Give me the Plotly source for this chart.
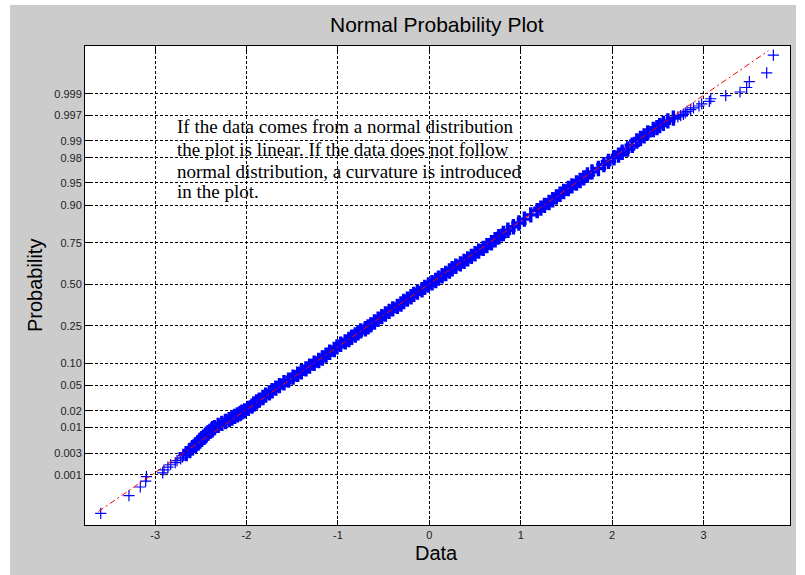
import plotly.graph_objects as go
from statistics import NormalDist

_nd = NormalDist()


def zq(p):
    return _nd.inv_cdf(p)


# ---- data (probability, data value) ----
lower_tail_p = [0.0001, 0.0003, 0.0005, 0.0007, 0.0009, 0.0011, 0.0013, 0.0015,
                0.0017, 0.0019, 0.0021, 0.0023, 0.0025, 0.0027]
lower_tail_x = [-3.595, -3.286, -3.162, -3.103, -3.095, -2.917, -2.903, -2.86,
                -2.83, -2.78, -2.76, -2.72, -2.70, -2.69]

body_p = [0.0030, 0.0035, 0.0040, 0.0045, 0.0050, 0.0055, 0.0060, 0.0065, 0.0070,
          0.0075, 0.0080, 0.0085, 0.0090, 0.0095, 0.0100, 0.0110, 0.0120, 0.0130,
          0.0140, 0.0150, 0.0160, 0.0170, 0.0180, 0.0190, 0.0200, 0.0220, 0.0240,
          0.0260, 0.0280, 0.0300, 0.0330, 0.0360, 0.0390, 0.0420, 0.0460, 0.0500,
          0.0550, 0.0600, 0.0660, 0.0720, 0.0780, 0.0850, 0.0920, 0.1000, 0.1080,
          0.1160, 0.1250, 0.1350, 0.1450, 0.1550, 0.1650, 0.1750, 0.1850, 0.1950,
          0.2050, 0.2150, 0.2250, 0.2350, 0.2450, 0.2550, 0.2700, 0.2850, 0.3000,
          0.3150, 0.3300, 0.3450, 0.3600, 0.3750, 0.3900, 0.4050, 0.4200, 0.4350,
          0.4500, 0.4650, 0.4800, 0.4950, 0.5100, 0.5250, 0.5400, 0.5550, 0.5700,
          0.5850, 0.6000, 0.6150, 0.6300, 0.6450, 0.6600, 0.6750, 0.6900, 0.7050,
          0.7200, 0.7350, 0.7500, 0.7650, 0.7800, 0.7950, 0.8100, 0.8250, 0.8400,
          0.8550, 0.8700, 0.8840, 0.8920, 0.9000, 0.9080, 0.9150, 0.9220, 0.9280,
          0.9340, 0.9400, 0.9450, 0.9500, 0.9540, 0.9580, 0.9620, 0.9660, 0.9700,
          0.9740, 0.9770, 0.9800, 0.9820, 0.9840, 0.9860, 0.9880, 0.9900, 0.9910,
          0.9920, 0.9930, 0.9940, 0.9945, 0.9950, 0.9955, 0.9960, 0.9965]
body_x = [-2.66, -2.62, -2.59, -2.56, -2.53, -2.51, -2.49, -2.47, -2.45,
          -2.44, -2.42, -2.40, -2.38, -2.37, -2.35, -2.31, -2.27, -2.23,
          -2.19, -2.16, -2.13, -2.10, -2.07, -2.05, -2.02, -1.98, -1.94,
          -1.92, -1.89, -1.86, -1.82, -1.79, -1.75, -1.72, -1.68, -1.64,
          -1.59, -1.54, -1.49, -1.44, -1.40, -1.35, -1.31, -1.26, -1.21,
          -1.17, -1.13, -1.09, -1.04, -1.01, -0.97, -0.92, -0.88, -0.85,
          -0.81, -0.78, -0.75, -0.70, -0.67, -0.64, -0.60, -0.56, -0.52,
          -0.48, -0.44, -0.40, -0.35, -0.31, -0.28, -0.24, -0.20, -0.17,
          -0.13, -0.08, -0.05, -0.01, 0.03, 0.07, 0.10, 0.14, 0.18,
          0.22, 0.25, 0.29, 0.34, 0.38, 0.42, 0.46, 0.50, 0.54,
          0.59, 0.63, 0.68, 0.72, 0.76, 0.81, 0.86, 0.92, 0.98,
          1.04, 1.11, 1.18, 1.22, 1.26, 1.31, 1.35, 1.39, 1.43,
          1.47, 1.52, 1.56, 1.61, 1.65, 1.69, 1.73, 1.78, 1.85,
          1.91, 1.96, 2.02, 2.07, 2.11, 2.17, 2.22, 2.27, 2.31,
          2.35, 2.39, 2.45, 2.49, 2.52, 2.56, 2.61, 2.67]

upper_tail_p = [0.9967, 0.9969, 0.9971, 0.9973, 0.9975, 0.9977, 0.9979, 0.9981,
                0.9983, 0.9985, 0.9987, 0.9989, 0.9991, 0.9993, 0.9995, 0.9997,
                0.9999]
upper_tail_x = [2.72, 2.75, 2.78, 2.80, 2.82, 2.86, 2.89, 2.95,
                2.98, 3.064, 3.079, 3.243, 3.399, 3.472, 3.501, 3.691,
                3.764]

# reference line: through the first and third quartiles, drawn over this data span
quartile_x = [-0.667, 0.655]
ref_line_x = [-3.62, 3.71]

prob_ticks = [0.001, 0.003, 0.01, 0.02, 0.05, 0.10, 0.25, 0.50, 0.75, 0.90,
              0.95, 0.98, 0.99, 0.997, 0.999]
prob_tick_labels = ["0.001", "0.003", "0.01", "0.02", "0.05", "0.10", "0.25",
                    "0.50", "0.75", "0.90", "0.95", "0.98", "0.99", "0.997", "0.999"]
x_ticks = [-3, -2, -1, 0, 1, 2, 3]
x_tick_labels = ["-3", "-2", "-1", "0", "1", "2", "3"]

note_lines = [
    "If the data comes from a normal distribution",
    "the plot is linear. If the data does not follow",
    "normal distribution, a curvature is introduced",
    "in the plot.",
]

# ---- build ----
tail_p = lower_tail_p + upper_tail_p
tail_x = lower_tail_x + upper_tail_x

q_mid = (quartile_x[0] + quartile_x[1]) / 2
q_scale = (quartile_x[1] - quartile_x[0]) / (zq(0.75) - zq(0.25))
ref_z = [(x - q_mid) / q_scale for x in ref_line_x]

fig = go.Figure()
# dense central body: the overlapping markers form a solid band
fig.add_trace(go.Scatter(
    x=body_x, y=[zq(p) for p in body_p], mode="markers",
    marker=dict(symbol="cross-thin", size=11, color="#0000ff",
                line=dict(color="#0000ff", width=3.4)),
    hoverinfo="skip", showlegend=False))
# isolated tail points
fig.add_trace(go.Scatter(
    x=tail_x, y=[zq(p) for p in tail_p], mode="markers",
    marker=dict(symbol="cross-thin", size=8, color="#0000ff",
                line=dict(color="#0000ff", width=1.2)),
    hoverinfo="skip", showlegend=False))
fig.add_trace(go.Scatter(
    x=ref_line_x, y=ref_z, mode="lines",
    line=dict(color="#ff0000", width=1, dash="6px,3px,2px,3px"),
    hoverinfo="skip", showlegend=False))

W, H = 805, 575
ML, MR, MT, MB = 85, 15, 46, 50
PW, PH = W - ML - MR, H - MT - MB


def px_x(px):
    return (px - ML) / PW


def px_y(py):
    return (H - MB - py) / PH


grid_common = dict(showgrid=True, gridcolor="#000000", gridwidth=1,
                   griddash="3px,2px", zeroline=False, showline=True,
                   linecolor="#000000", linewidth=1, mirror="ticks",
                   ticks="inside", ticklen=5, tickcolor="#000000",
                   tickfont=dict(family="Liberation Sans, Arial", size=11, color="#222222"))

fig.update_xaxes(range=[-3.767, 3.946], tickvals=x_ticks, ticktext=x_tick_labels,
                 **grid_common)
fig.update_yaxes(range=[-3.907, 3.868], tickvals=[zq(p) for p in prob_ticks],
                 ticktext=prob_tick_labels, **grid_common)

annotations = []
line_y = [126.7, 149.3, 171.0, 191.7]
for txt, yy in zip(note_lines, line_y):
    annotations.append(dict(text=txt, xref="paper", yref="paper", x=px_x(175),
                            y=px_y(yy), xanchor="left", yanchor="middle",
                            showarrow=False,
                            font=dict(family="Liberation Serif, Times New Roman",
                                      size=19, color="#000000")))
annotations.append(dict(text="Data", xref="paper", yref="paper", x=px_x(436),
                        y=px_y(553), xanchor="center", yanchor="middle",
                        showarrow=False,
                        font=dict(family="Liberation Sans, Arial", size=20, color="#000000")))
annotations.append(dict(text="Probability", xref="paper", yref="paper", x=px_x(35),
                        y=px_y(285), xanchor="center", yanchor="middle",
                        textangle=-90, showarrow=False,
                        font=dict(family="Liberation Sans, Arial", size=20, color="#000000")))
annotations.append(dict(text="Normal Probability Plot", xref="paper", yref="paper",
                        x=px_x(437), y=px_y(25), xanchor="center", yanchor="middle",
                        showarrow=False,
                        font=dict(family="Liberation Sans, Arial", size=21, color="#000000")))

shapes = [
    dict(type="rect", xref="paper", yref="paper", x0=px_x(-2), x1=px_x(10),
         y0=px_y(H + 2), y1=px_y(-2), fillcolor="#ffffff", line=dict(width=0)),
    dict(type="rect", xref="paper", yref="paper", x0=px_x(-2), x1=px_x(W + 2),
         y0=px_y(5), y1=px_y(-2), fillcolor="#ffffff", line=dict(width=0)),
    dict(type="rect", xref="paper", yref="paper", x0=px_x(796), x1=px_x(W + 2),
         y0=px_y(H + 2), y1=px_y(-2), fillcolor="#ffffff", line=dict(width=0)),
]

fig.update_layout(width=W, height=H, margin=dict(l=ML, r=MR, t=MT, b=MB),
                  paper_bgcolor="#cccccc", plot_bgcolor="#ffffff",
                  annotations=annotations, shapes=shapes, showlegend=False)

fig.write_html("out.html")
